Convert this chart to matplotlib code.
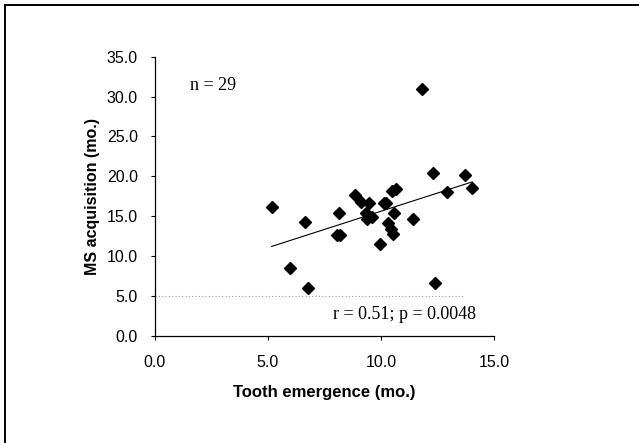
import matplotlib
matplotlib.use("Agg")
import matplotlib.pyplot as plt
from matplotlib.lines import Line2D

# data
tooth = [5.17, 5.96, 6.64, 6.79, 8.04, 8.18, 8.16, 8.85, 9.14, 9.48,
         9.33, 9.39, 9.61, 9.95, 10.14, 10.22, 10.32, 10.44, 10.54, 10.47,
         10.66, 10.58, 11.42, 11.80, 12.29, 12.39, 12.92, 13.73, 14.04]
ms_acq = [16.1, 8.5, 14.3, 6.0, 12.6, 12.6, 15.4, 17.6, 16.8, 16.6,
          15.4, 14.6, 14.9, 11.5, 16.7, 16.6, 14.1, 13.4, 12.8, 18.1,
          18.4, 15.4, 14.6, 31.0, 20.4, 6.6, 18.0, 20.2, 18.5]

fit_x = [5.17, 14.04]
fit_y = [11.2, 19.3]

x_ticks = [0, 5, 10, 15]
y_ticks = [0, 5, 10, 15, 20, 25, 30, 35]

n_label = "n = 29"
stat_label = "r = 0.51; p = 0.0048"

sans = ["Liberation Sans", "DejaVu Sans"]
serif = ["Liberation Serif", "DejaVu Serif"]

fig = plt.figure(figsize=(6.39, 4.43), dpi=100)
ax = fig.add_axes([0.2421, 0.2422, 0.531, 0.6298])

# faint dotted line at 5.0 (as in the scanned original)
ax.axhline(5, xmax=0.91, color="#9a9a9a", lw=0.8, ls=(0, (1, 2)), zorder=1)

ax.plot(fit_x, fit_y, color="black", lw=0.8, zorder=2)
ax.plot(tooth, ms_acq, "D", color="black", markersize=6, zorder=3)

ax.set_xlim(0, 15)
ax.set_ylim(0, 35)
ax.set_xticks(x_ticks)
ax.set_yticks(y_ticks)
ax.set_xticklabels([f"{v:.1f}" for v in x_ticks], family=sans, fontsize=11.5)
ax.set_yticklabels([f"{v:.1f}" for v in y_ticks], family=sans, fontsize=11.5)
ax.tick_params(axis="x", direction="out", length=3, width=0.8, pad=11)
ax.tick_params(axis="y", direction="out", length=3, width=0.8, pad=9)

for s in ["top", "right"]:
    ax.spines[s].set_visible(False)
for s in ["left", "bottom"]:
    ax.spines[s].set_linewidth(0.9)

ax.set_xlabel("Tooth emergence (mo.)", family=sans, fontsize=12,
              fontweight="bold", labelpad=11)
ax.set_ylabel("MS acquisition (mo.)", family=sans, fontsize=11.5,
              fontweight="bold", labelpad=5)

ax.text(1.56, 31.45, n_label, family=serif, fontsize=13, ha="left", va="center")
ax.text(14.2, 2.6, stat_label, family=serif, fontsize=13, ha="right", va="center")

# outer frame (only top and left edges are visible in the crop)
fig.add_artist(Line2D([5 / 639, 5 / 639], [0, 1 - 5 / 443], color="black", lw=1.4))
fig.add_artist(Line2D([5 / 639, 1], [1 - 5 / 443, 1 - 5 / 443], color="black", lw=1.4))

fig.savefig("out.png", dpi=100)
